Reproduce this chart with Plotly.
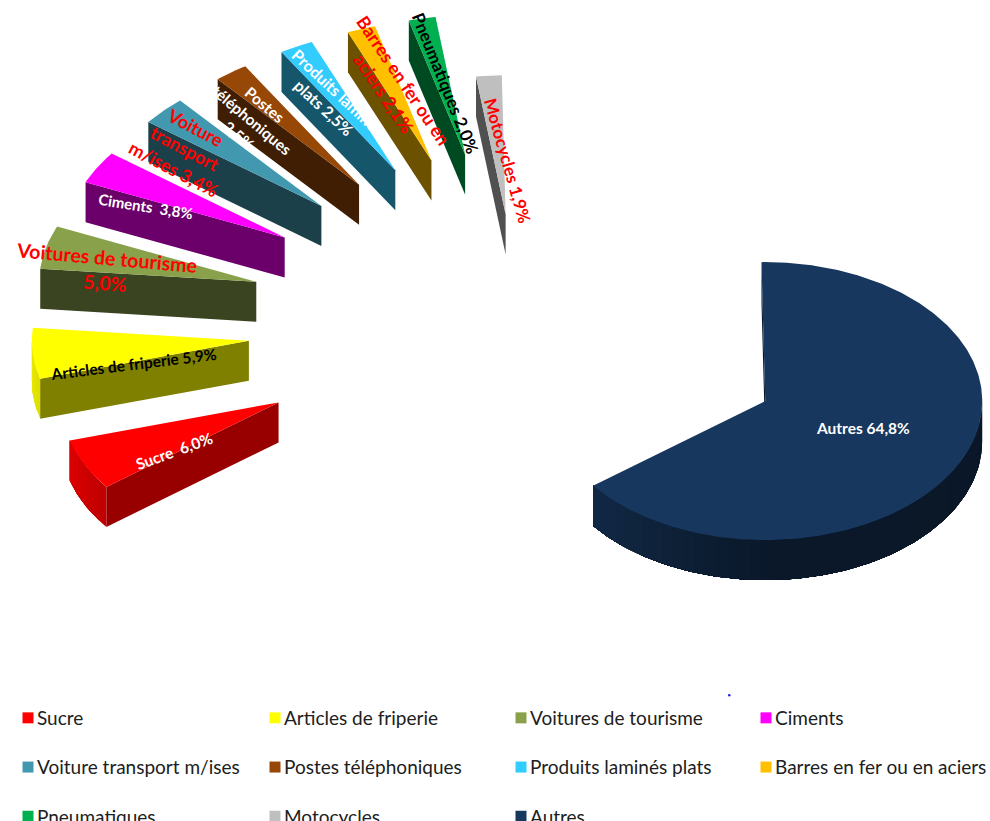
import numpy as np
import plotly.graph_objects as go

# ---- data ----
categories = ["Sucre", "Articles de friperie", "Voitures de tourisme", "Ciments",
              "Voiture transport m/ises", "Postes téléphoniques", "Produits laminés plats",
              "Barres en fer ou en aciers", "Pneumatiques", "Motocycles", "Autres"]
values = [6.0, 5.9, 5.0, 3.8, 3.4, 2.5, 2.5, 2.1, 2.0, 1.9, 64.8]
pull = [1.24, 1.25, 1.25, 1.25, 1.25, 1.25, 1.25, 1.25, 1.25, 0.8, 1.26]
label_texts = ["Sucre  6,0%", "Articles de friperie 5,9%", "Voitures de tourisme<br>5,0%",
               "Ciments  3,8%", "Voiture<br>transport<br>m/ises 3,4%",
               "Postes<br>téléphoniques<br>2,5%", "Produits laminés<br>plats 2,5%",
               "Barres en fer ou en<br>aciers 2,1%", "Pneumatiques 2,0%",
               "Motocycles 1,9%", "Autres 64,8%"]

# ---- style ----
colors = ["#FF0000", "#FFFF00", "#8AA14B", "#FF00FF", "#4198AF", "#974806",
          "#33CCFF", "#FFC000", "#00B050", "#BFBFBF", "#17375E"]
label_colors = ["white", "black", "red", "white", "red", "white", "white", "red", "black", "red", "white"]
label_sizes = [15.5, 15.5, 19.5, 15, 18, 15.5, 16, 18, 17, 17, 15.5]
label_angles = [-20, -7, 5, 9, 28, 40, 43, 56, 68, 74, 0]
label_xy = [(174, 451), (133, 364), (105, 270), (145, 206), (185, 148), (252, 120),
            (331, 100), (394, 86), (446, 83), (508, 160), (863, 428)]
FONT = "Lato, Carlito, sans-serif"
PX, PY = 519, 325      # common pie centre before the slices are pulled out
RX, RY = 217, 139      # flattened radii of the tilted pie
DEPTH = 40
START_DEG = -1

def shade(hex_color, f):
    r, g, b = (int(hex_color[i:i + 2], 16) for i in (1, 3, 5))
    return f"rgb({r * f:.0f},{g * f:.0f},{b * f:.0f})"

def rim(theta):
    return RX * np.sin(np.radians(theta)), -RY * np.cos(np.radians(theta))

fig = go.Figure()

def piece(xs, ys, color, name):
    fig.add_trace(go.Scatter(x=list(xs), y=list(ys), mode="lines", fill="toself", fillcolor=color,
                             line=dict(width=0), hoverinfo="skip",
                             showlegend=False, legendgroup=name))

shares = np.array(values) / sum(values) * 360
autres_end = START_DEG + shares[-1]
starts = []
a = autres_end
for s in shares[:-1]:
    starts.append(a)
    a += s
starts.append(START_DEG)

# paint back to front: the small slices from the top down, then Autres
order = list(range(9, -1, -1)) + [10]
for i in order:
    t1, t2 = starts[i], starts[i] + shares[i]
    mid = (t1 + t2) / 2
    ux, uy = rim(mid)
    cx, cy = PX + pull[i] * ux, PY + pull[i] * uy
    name, col = categories[i], colors[i]

    # cut face on the slice's opening edge
    if 180 < t1 % 360 < 360:
        ex, ey = rim(t1)
        f = float(np.interp(t1 % 360, [232, 254, 276], [0.6, 0.5, 0.42]))
        piece([cx, cx + ex, cx + ex, cx, cx], [cy, cy + ey, cy + ey + DEPTH, cy + DEPTH, cy],
              shade(col, f), name)

    # outer rim: strips painted with an overlap so no seams show
    lo, hi = max(t1, 90), min(t2, 270)
    if hi > lo:
        n = max(2, int((hi - lo) / 3))
        edges = np.linspace(lo, hi, n + 1)
        for u, v in zip(edges[:-1], edges[1:]):
            tt = np.linspace(u, hi, max(3, int(hi - u)))
            xx, yy = rim(tt)
            f = float(np.interp((u + v) / 2, [90, 180, 232, 254, 270], [0.42, 0.44, 0.74, 0.87, 0.92]))
            piece(cx + np.r_[xx, xx[::-1], xx[0]],
                  cy + np.r_[yy, yy[::-1] + DEPTH, yy[0]], shade(col, f), name)

    # top face
    tt = np.linspace(t1, t2, max(4, int(shares[i] * 1.5)))
    xx, yy = rim(tt)
    piece(cx + np.r_[0, xx, 0], cy + np.r_[0, yy, 0], col, name)

# legend: one native vertical legend per column
columns = {"legend": [0, 4, 8], "legend2": [1, 5, 9], "legend3": [2, 6, 10], "legend4": [3, 7]}
for leg, idx in columns.items():
    for i in idx:
        fig.add_trace(go.Scatter(x=[None], y=[None], mode="markers", name=categories[i],
                                 marker=dict(symbol="square", size=11, color=colors[i]),
                                 legend=leg, legendgroup=categories[i], hoverinfo="skip"))

def legend_at(x_px):
    return dict(orientation="v", x=x_px / 990, xanchor="left", y=1 - 699 / 821, yanchor="top",
                tracegroupgap=21.5, bgcolor="rgba(0,0,0,0)", borderwidth=0, itemsizing="trace",
                font=dict(family=FONT, size=19, color="#202020"))

for i, txt in enumerate(label_texts):
    fig.add_annotation(x=label_xy[i][0], y=label_xy[i][1], text=f"<b>{txt}</b>", showarrow=False,
                       textangle=label_angles[i], xanchor="center", yanchor="middle",
                       font=dict(family=FONT, size=label_sizes[i], color=label_colors[i]))

fig.update_layout(
    width=990, height=821, autosize=False,
    margin=dict(l=0, r=0, t=0, b=0, pad=0, autoexpand=False),
    paper_bgcolor="white", plot_bgcolor="white",
    xaxis=dict(range=[0, 990], visible=False, fixedrange=True),
    yaxis=dict(range=[821, 0], visible=False, fixedrange=True),
    legend=legend_at(-3), legend2=legend_at(244), legend3=legend_at(490), legend4=legend_at(735),
    shapes=[dict(type="circle", x0=728, x1=730.5, y0=694, y1=696.5, fillcolor="#2020ff", line_width=0)],
)

post = """
document.body.style.margin = '0';
document.querySelectorAll('.legendsymbols').forEach(function (g) {
  g.setAttribute('transform', 'translate(11,0)');
});
"""
fig.write_html("out.html", post_script=post, config={"displayModeBar": False})
